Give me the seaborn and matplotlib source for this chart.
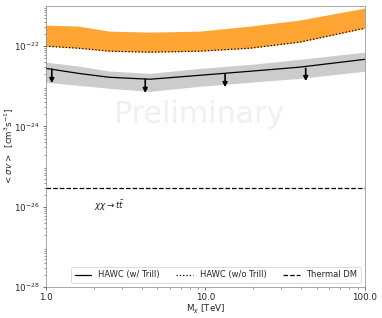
import numpy as np
import pandas as pd
import matplotlib
matplotlib.use("Agg")
import matplotlib.pyplot as plt
import seaborn as sns
from matplotlib.ticker import FormatStrFormatter, LogLocator, NullFormatter

# DM mass grid [TeV] and limits
mass = [1.0, 1.6, 2.5, 4.5, 9.2, 19.0, 39.0, 100.0]
limit_trill = [2.8e-23, 2.1e-23, 1.68e-23, 1.5e-23, 1.88e-23, 2.37e-23, 3.0e-23, 4.7e-23]
band_trill_hi = [4.0e-23, 3.2e-23, 2.4e-23, 2.1e-23, 2.8e-23, 3.5e-23, 4.7e-23, 7.1e-23]
band_trill_lo = [1.26e-23, 1.06e-23, 8.9e-24, 7.5e-24, 1.0e-23, 1.26e-23, 1.58e-23, 2.37e-23]
limit_notrill = [1.0e-22, 8.9e-23, 7.5e-23, 7.1e-23, 7.5e-23, 8.9e-23, 1.26e-22, 2.8e-22]
band_notrill_hi = [3.35e-22, 3.16e-22, 2.37e-22, 2.24e-22, 2.37e-22, 3.16e-22, 4.47e-22, 8.9e-22]

# upper-limit arrows (start on the line, end below it)
arrow_mass = [1.09, 4.2, 13.3, 42.6]
arrow_top = [2.7e-23, 1.5e-23, 2.0e-23, 2.8e-23]
arrow_bottom = [1.2e-23, 6.8e-24, 9.5e-24, 1.35e-23]

thermal = 3e-26
y_major = [1e-28, 1e-26, 1e-24, 1e-22]

df = pd.DataFrame({"mass": mass, "trill": limit_trill, "notrill": limit_notrill})

sns.set_style("ticks")
plt.rcParams['font.family'] = ['DejaVu Sans']
plt.rcParams['font.size'] = 10.5
plt.rcParams['axes.edgecolor'] = '0.5'

fig, ax = plt.subplots(figsize=(382 / 60, 318 / 60), dpi=60)
fig.subplots_adjust(left=0.12, right=0.955, top=0.981, bottom=0.0975)

ax.fill_between(mass, limit_notrill, band_notrill_hi, color='#ffa533', lw=0)
ax.fill_between(mass, band_trill_lo, band_trill_hi, color='#cccccc', lw=0)
sns.lineplot(data=df, x="mass", y="trill", ax=ax, color='black', lw=1.5, label="HAWC (w/ Trill)")
sns.lineplot(data=df, x="mass", y="notrill", ax=ax, color='black', lw=1.5, ls=':', label="HAWC (w/o Trill)")
ax.axhline(thermal, color='black', lw=1.5, ls='--', label="Thermal DM")

for xm, yt, yb in zip(arrow_mass, arrow_top, arrow_bottom):
    ax.annotate('', xy=(xm, yb), xytext=(xm, yt),
                arrowprops=dict(arrowstyle='-|>', color='black', lw=2.0,
                                mutation_scale=11, shrinkA=0, shrinkB=0))

ax.set_xscale('log')
ax.set_yscale('log')
ax.set_xlim(1, 100)
ax.set_ylim(1e-28, 1e-21)
ax.set_yticks(y_major)
ax.yaxis.set_minor_locator(LogLocator(base=10, subs=np.arange(2, 10), numticks=30))
ax.yaxis.set_minor_formatter(NullFormatter())
ax.xaxis.set_major_formatter(FormatStrFormatter('%.1f'))
ax.xaxis.set_minor_formatter(NullFormatter())
ax.tick_params(labelsize=10.5)

ax.text(9.2, 2e-24, "Preliminary", fontsize=36, color='#f0f0f0', ha='center', va='center', zorder=0)
ax.text(2.0, 1.06e-26, r'$\chi\chi \rightarrow t\bar{t}$', fontsize=10.5, va='center')

ax.set_xlabel(r'M$_\chi$ [TeV]', fontsize=10.5, labelpad=1)
ax.set_ylabel(r'$<\sigma v>$  [cm$^3$s$^{-1}$]', fontsize=10.5)
ax.yaxis.set_label_coords(-0.095, 0.5)
ax.legend(loc='lower right', ncol=3, fontsize=10)

fig.savefig("out.png", dpi=60)
